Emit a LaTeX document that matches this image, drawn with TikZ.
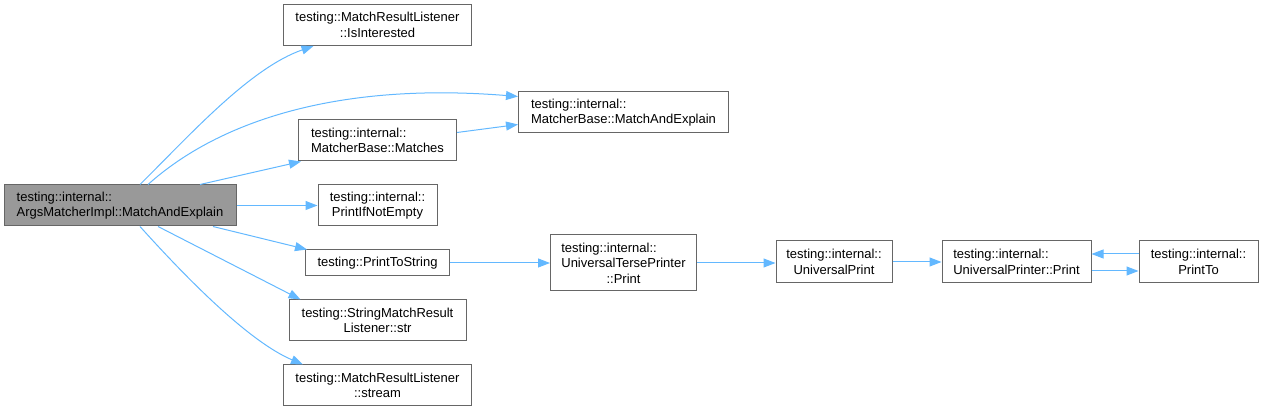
\documentclass[tikz,border=0pt]{standalone}
\usepackage{fontspec}
\setmainfont{Liberation Sans}
\usetikzlibrary{arrows.meta}
\definecolor{edgeblue}{HTML}{63B8FF}
\definecolor{boxborder}{HTML}{666666}
\definecolor{rootfill}{HTML}{999999}
\tikzset{
  fn/.style={draw=boxborder, line width=1pt, fill=white, inner sep=0pt, font=\fontsize{13}{15.5}\selectfont, text=black},
  rootbox/.style={fn, fill=rootfill},
  edge/.style={draw=edgeblue, line width=1pt, -{Triangle[length=12pt,width=9pt]}}
}
\begin{document}
\begin{tikzpicture}[x=1pt,y=-1pt]
\useasboundingbox (0,0) rectangle (1264,411);
\node[rootbox, minimum width=232, minimum height=41, align=left] (root) at (120,205.5) {testing::internal::\\ArgsMatcherImpl::MatchAndExplain};
\node[fn, minimum width=188, minimum height=41, align=center] (isint) at (377.5,25) {testing::MatchResultListener\\::IsInterested};
\node[fn, minimum width=210, minimum height=41, align=left] (mbmae) at (623.5,112.5) {testing::internal::\\MatcherBase::MatchAndExplain};
\node[fn, minimum width=158, minimum height=41, align=left] (matches) at (377.5,140.5) {testing::internal::\\MatcherBase::Matches};
\node[fn, minimum width=119, minimum height=41, align=center] (pine) at (377.5,205.5) {testing::internal::\\PrintIfNotEmpty};
\node[fn, minimum width=144, minimum height=26, align=center] (pts) at (377.5,263) {testing::PrintToString};
\node[fn, minimum width=177, minimum height=41, align=center] (str) at (377.5,320.5) {testing::StringMatchResult\\Listener::str};
\node[fn, minimum width=188, minimum height=41, align=center] (stream) at (377.5,385.5) {testing::MatchResultListener\\::stream};
\node[fn, minimum width=146, minimum height=56, align=center] (utp) at (623.5,263) {\rlap{testing::internal::}\phantom{UniversalTersePrinter}\\UniversalTersePrinter\\::Print};
\node[fn, minimum width=116, minimum height=42, align=center] (up) at (834,262) {testing::internal::\\UniversalPrint};
\node[fn, minimum width=149, minimum height=42, align=left] (upp) at (1016.5,262) {testing::internal::\\UniversalPrinter::Print};
\node[fn, minimum width=119, minimum height=42, align=center] (printto) at (1198.5,262) {testing::internal::\\PrintTo};

\draw[edge] ([xshift=20]root.north) .. controls (190,135) and (250,68) .. ([xshift=-64]isint.south);
\draw[edge] ([xshift=28]root.north) .. controls (220,120) and (340,82) .. ([yshift=16]mbmae.west);
\draw[edge] ([xshift=80]root.north) -- ([xshift=3]matches.south west);
\draw[edge] ([yshift=8]matches.east) -- ([yshift=-12]mbmae.west);
\draw[edge] (root.east) -- (pine.west);
\draw[edge] ([xshift=93]root.south) -- ([xshift=2]pts.north west);
\draw[edge] ([xshift=38]root.south) -- ([xshift=12]str.north west);
\draw[edge] ([xshift=20]root.south) .. controls (190,282) and (250,342) .. ([xshift=20]stream.north west);
\draw[edge] (pts.east) -- (utp.west);
\draw[edge] (utp.east) -- (utp.east -| up.west);
\draw[edge] (up.east) -- (upp.west);
\draw[edge] ([yshift=-9]upp.east) -- ([yshift=-9]printto.west);
\draw[edge] ([yshift=8]printto.west) -- ([yshift=8]upp.east);
\end{tikzpicture}
\end{document}
